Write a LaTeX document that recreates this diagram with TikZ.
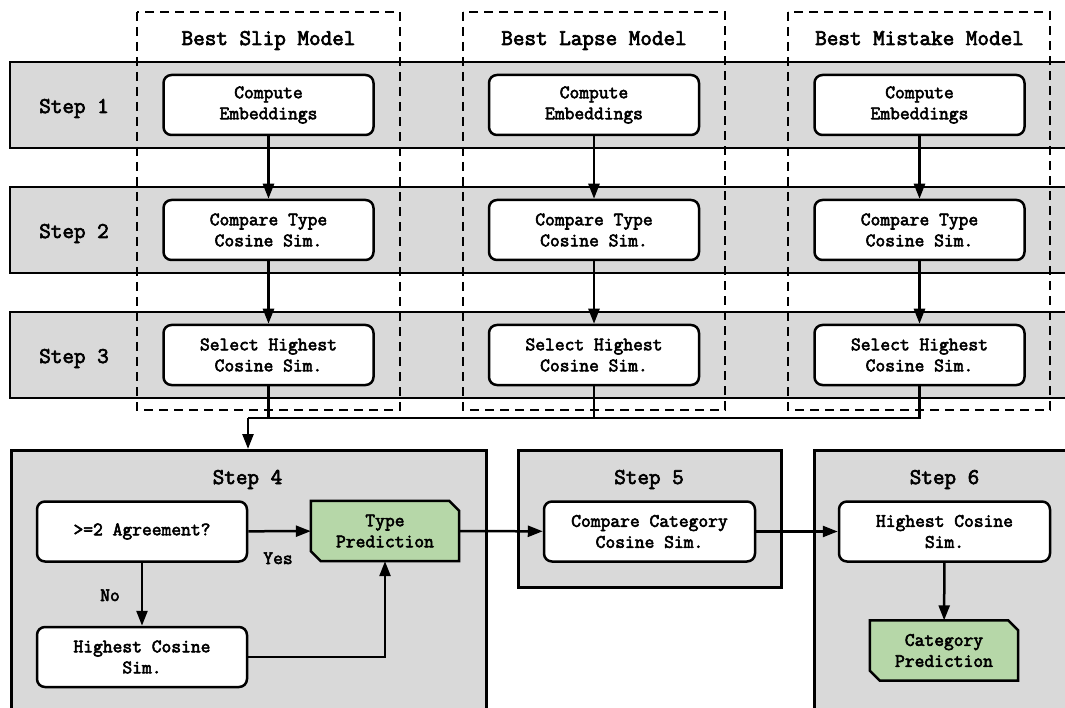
\documentclass[tikz,border=0pt]{standalone}
\usepackage{fontspec}
\newfontfamily\cmono{Latin Modern Mono}[FakeBold=3]
\usetikzlibrary{arrows.meta,calc}
\definecolor{bandgray}{RGB}{217,217,217}
\definecolor{predgreen}{RGB}{182,215,168}
\tikzset{
  lbl/.style={font=\cmono\fontsize{22.5}{26}\selectfont, inner sep=0pt},
  small/.style={font=\cmono\fontsize{19}{21}\selectfont, inner sep=0pt},
  band/.style={draw, line width=2.5pt, fill=bandgray},
  region/.style={draw, line width=2.5pt, fill=bandgray, inner sep=0pt},
  column/.style={draw, line width=2.5pt, dash pattern=on 9pt off 6pt},
  stepbox/.style={draw, line width=2.5pt, rounded corners=8pt, fill=white, align=center,
    font=\cmono\fontsize{19}{21}\selectfont, minimum width=210pt,
    minimum height=60pt, inner sep=0pt},
  predbox/.style={align=center, font=\cmono\fontsize{19}{21}\selectfont,
    minimum width=148pt, minimum height=60pt, inner sep=0pt},
  chamfer/.style={draw, line width=2.5pt, fill=predgreen, line join=miter},
  conn/.style={line width=2.5pt},
  arr/.style={line width=2.5pt, -{Triangle[length=15pt,width=11pt]}},
}
\begin{document}
\begin{tikzpicture}[x=1pt,y=-1pt]
\useasboundingbox (0,0) rectangle (1065,708);
% bands
\draw[band] (10,62) rectangle (1075,148);
\draw[band] (10,187) rectangle (1075,273);
\draw[band] (10,312) rectangle (1075,398);
% step labels
\node[lbl, anchor=base] (l1) at (74,113) {Step 1};
\node[lbl, anchor=base] (l2) at (74,238) {Step 2};
\node[lbl, anchor=base] (l3) at (74,363) {Step 3};
% dashed columns
\draw[column] (137,12) rectangle (400,410);
\draw[column] (463,12) rectangle (725,410);
\draw[column] (788,12) rectangle (1050,410);
\node[lbl, anchor=base] (t1) at (268.5,45) {Best Slip Model};
\node[lbl, anchor=base] (t2) at (594,45) {Best Lapse Model};
\node[lbl, anchor=base] (t3) at (919.5,45) {Best Mistake Model};
% column boxes
\foreach \c/\x in {a/268.5,b/594,c/919.5}{
  \node[stepbox] (r1\c) at (\x,105) {Compute\\Embeddings};
  \node[stepbox] (r2\c) at (\x,230) {Compare Type\\Cosine Sim.};
  \node[stepbox] (r3\c) at (\x,355) {Select Highest\\Cosine Sim.};
  \draw[arr] (r1\c) -- (r2\c);
  \draw[arr] (r2\c) -- (r3\c);
}
% bottom regions
\node[region, minimum width=475pt, minimum height=266pt, anchor=north west] (st4) at (10,449) {};
\node[region, minimum width=263pt, minimum height=137pt, anchor=north west] (st5) at (517,449) {};
\node[region, minimum width=262pt, minimum height=266pt, anchor=north west] (st6) at (813,449) {};
\node[lbl, anchor=base] (s4) at (247.5,484) {Step 4};
\node[lbl, anchor=base] (s5) at (649,484) {Step 5};
\node[lbl, anchor=base] (s6) at (944.5,484) {Step 6};
% merge
\coordinate (merge) at (248,418);
\draw[conn] (r3a.south) -- (r3a.south |- merge);
\draw[conn] (r3b.south) -- (r3b.south |- merge);
\draw[conn] (r3c.south) |- (merge);
\draw[arr] (merge) -- (merge |- st4.north);
% step 4
\node[stepbox] (agree) at (142,531.5) {>=2 Agreement?};
\node[stepbox] (hc4) at (142,657) {Highest Cosine\\Sim.};
\node[predbox] (tp) at (385,531) {};
\draw[chamfer] (tp.north west) -- ($(tp.north east)+(-10pt,0pt)$) -- ($(tp.north east)+(0pt,-10pt)$)
  -- (tp.south east) -- ($(tp.south west)+(10pt,0pt)$) -- ($(tp.south west)+(0pt,10pt)$) -- cycle;
\node[predbox] at (tp) {Type\\Prediction};
\draw[arr] (agree) -- (tp);
\node[small, anchor=base] (yes) at (278,564) {Yes};
\draw[arr] (agree) -- (hc4);
\node[small, anchor=base] (no) at (110,601) {No};
\draw[arr] (hc4.east) -| (tp.south);
% step 5
\node[stepbox, minimum width=211pt] (cc) at (649.5,531.5) {Compare Category\\Cosine Sim.};
\draw[arr] (tp) -- (cc);
% step 6
\node[stepbox, minimum width=211pt] (hc6) at (944.5,531.5) {Highest Cosine\\Sim.};
\draw[arr] (cc) -- (hc6);
\node[predbox] (cp) at (944,650.5) {};
\draw[chamfer] (cp.north west) -- ($(cp.north east)+(-10pt,0pt)$) -- ($(cp.north east)+(0pt,-10pt)$)
  -- (cp.south east) -- ($(cp.south west)+(10pt,0pt)$) -- ($(cp.south west)+(0pt,10pt)$) -- cycle;
\node[predbox] at (cp) {Category\\Prediction};
\draw[arr] (hc6) -- (cp);
\end{tikzpicture}
\end{document}
